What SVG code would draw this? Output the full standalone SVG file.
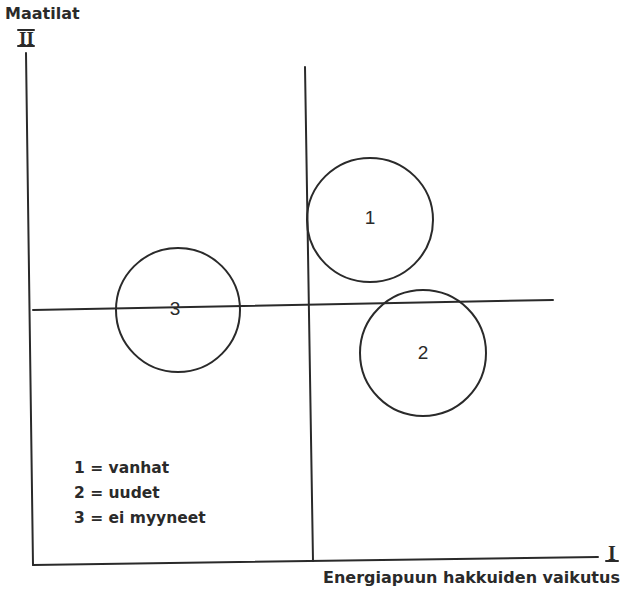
<svg xmlns="http://www.w3.org/2000/svg" width="623" height="589" viewBox="0 0 623 589">
<style>
.ln{stroke:#2a2a2a;stroke-width:2;fill:none;stroke-linecap:round}
.c{stroke:#2a2a2a;stroke-width:2;fill:none}
.t{font-family:"DejaVu Sans","Liberation Sans",sans-serif;font-weight:bold;fill:#2a2a2a}
.n{font-family:"Liberation Sans","DejaVu Sans",sans-serif;font-size:19px;fill:#2a2a2a;text-anchor:middle}
.r{font-family:"Liberation Serif","DejaVu Serif",serif;font-weight:bold;fill:#2a2a2a}
</style>
<rect width="623" height="589" fill="#fff"/>
<g id="axes">
<line class="ln" x1="26" y1="53" x2="33" y2="565"/>
<line class="ln" x1="33" y1="565" x2="598" y2="557"/>
<line class="ln" x1="305" y1="67" x2="313" y2="561"/>
<line class="ln" x1="33" y1="310" x2="553" y2="300"/>
</g>
<g id="axis-labels">
<text class="t" x="5" y="19" font-size="16">Maatilat</text>
<text class="r" x="19" y="45" font-size="19">II</text>
<line class="ln" x1="18" y1="30" x2="34" y2="30" stroke-width="1.5"/>
<line class="ln" x1="18" y1="46" x2="34" y2="46" stroke-width="1.5"/>
<text class="r" x="608" y="560" font-size="20">I</text>
<line class="ln" x1="606" y1="561" x2="618" y2="561" stroke-width="1.5"/>
<text class="t" x="323" y="583" font-size="16">Energiapuun hakkuiden vaikutus</text>
</g>
<g id="node-1">
<ellipse class="c" cx="370" cy="220" rx="63" ry="62"/>
<text class="n" x="370" y="224">1</text>
</g>
<g id="node-2">
<circle class="c" cx="423" cy="353" r="63"/>
<text class="n" x="423" y="359">2</text>
</g>
<g id="node-3">
<circle class="c" cx="178" cy="310" r="62"/>
<text class="n" x="175" y="315">3</text>
</g>
<g id="legend">
<text class="t" x="74" y="473" font-size="15.5">1 = vanhat</text>
<text class="t" x="74" y="498" font-size="15.5">2 = uudet</text>
<text class="t" x="74" y="523" font-size="15.5">3 = ei myyneet</text>
</g>
</svg>
